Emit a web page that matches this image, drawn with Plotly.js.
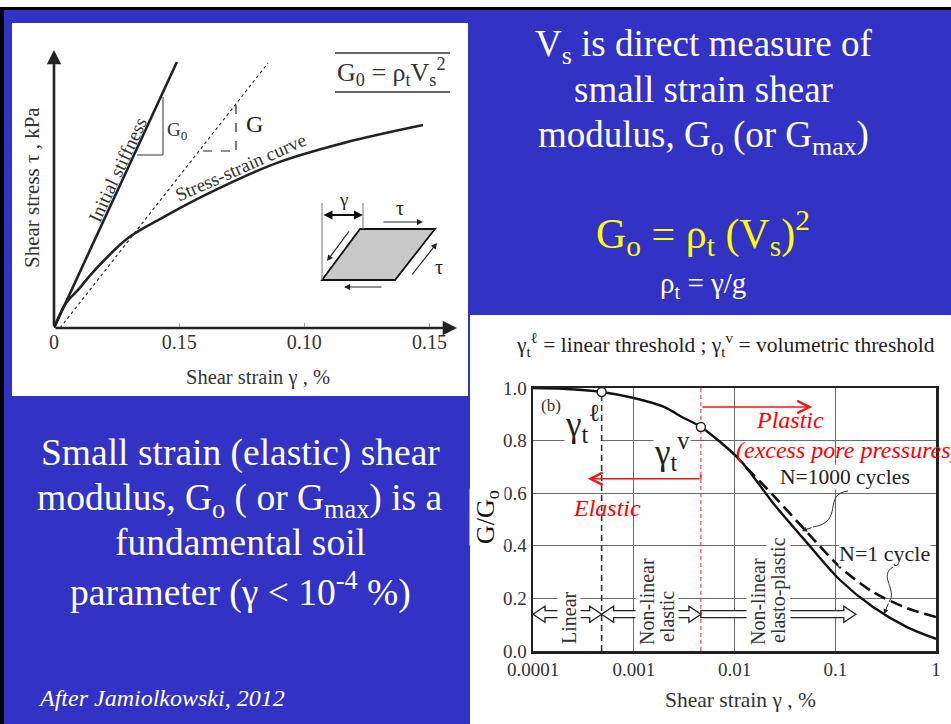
<!DOCTYPE html>
<html>
<head>
<meta charset="utf-8">
<script src="https://cdn.plot.ly/plotly-3.0.1.min.js"></script>
<style>html,body{margin:0;padding:0;background:#3232c4;}#chart{width:951px;height:724px;}</style>
</head>
<body>
<div id="chart"></div>
<script>
// ---------- Data: left chart (stress-strain, arbitrary units) ----------
const strainCurve = [0, 0.0048, 0.0096, 0.0164, 0.0296, 0.0432, 0.0603, 0.0891, 0.1155, 0.1474];
const stressCurve = [0, 9.0, 13.7, 20.9, 32.4, 39.6, 47.8, 59.4, 66.5, 73.0];
const strainInitial = [0, 0.0491];
const stressInitial = [0, 95.7];
const strainSecant = [0.0024, 0.0855];
const stressSecant = [0, 95.3];
const leftTickVals = [0, 0.05, 0.10, 0.15];
const leftTickText = ["0", "0.15", "0.10", "0.15"];

// ---------- Data: right chart (G/Go vs shear strain %) ----------
const gammaN1 = [0.0001, 0.0002, 0.00048, 0.001, 0.002, 0.003, 0.00464, 0.01135, 0.0241, 0.0525, 0.1114, 0.237, 0.515, 1.0];
const ratioN1 = [1.0, 0.997, 0.985, 0.962, 0.928, 0.89, 0.852, 0.726, 0.563, 0.411, 0.27, 0.167, 0.091, 0.046];
const gammaN1000 = [0.0131, 0.0241, 0.0525, 0.1114, 0.237, 0.515, 1.0];
const ratioN1000 = [0.697, 0.593, 0.452, 0.319, 0.224, 0.163, 0.129];
const gammaLinear = 0.00048, ratioLinear = 0.985;
const gammaVolumetric = 0.00464, ratioVolumetric = 0.852;
const rightXTicks = [0.0001, 0.001, 0.01, 0.1, 1];
const rightXText = ["0.0001", "0.001", "0.01", "0.1", "1"];
const rightYTicks = [0, 0.2, 0.4, 0.6, 0.8, 1.0];
const rightYText = ["0.0", "0.2", "0.4", "0.6", "0.8", "1.0"];
const zoneArrowLevel = 0.14;
const zoneEnd = 0.16;

// ---------- helpers (page pixels -> paper) ----------
const W = 951, H = 724;
const PX = x => x / W, PY = y => 1 - y / H;
const SERIF = "Liberation Serif";
const R = {x0: 533, x1: 936, y0: 651, y1: 388};
const gx = v => R.x0 + (Math.log10(v) + 4) * (R.x1 - R.x0) / 4;
const gy = v => R.y0 - v * (R.y0 - R.y1);

function pathOf(pts, close) {
  return 'M' + pts.map(p => PX(p[0]).toFixed(5) + ',' + PY(p[1]).toFixed(5)).join(' L') + (close ? ' Z' : '');
}
function rect(x0, y0, x1, y1, fill) {
  return {type: 'rect', xref: 'paper', yref: 'paper', x0: PX(x0), x1: PX(x1), y0: PY(y1), y1: PY(y0),
          fillcolor: fill, line: {width: 0}, layer: 'below'};
}
function seg(x0, y0, x1, y1, color, width, dash) {
  return {type: 'line', xref: 'paper', yref: 'paper', x0: PX(x0), y0: PY(y0), x1: PX(x1), y1: PY(y1),
          line: {color: color, width: width, dash: dash || 'solid'}};
}
function txt(text, x, y, size, color, extra) {
  return Object.assign({text: text, xref: 'paper', yref: 'paper', x: PX(x), y: PY(y), showarrow: false,
    xanchor: 'center', yanchor: 'middle', font: {family: SERIF, size: size, color: color}}, extra || {});
}
function arr(x0, y0, x1, y1, color, width, head, extra) {
  return Object.assign({text: '', xref: 'paper', yref: 'paper', x: PX(x1), y: PY(y1), ax: x0 - x1, ay: y0 - y1,
    showarrow: true, arrowcolor: color, arrowwidth: width, arrowhead: head, arrowsize: 1}, extra || {});
}
function hollowArrow(xa, xb, yc, left, right) {
  const s = 3.5, h = 8, L = 12;
  const pts = [];
  if (left) pts.push([xa, yc], [xa + L, yc - h], [xa + L, yc - s]); else pts.push([xa, yc - s]);
  if (right) pts.push([xb - L, yc - s], [xb - L, yc - h], [xb, yc], [xb - L, yc + h], [xb - L, yc + s]);
  else pts.push([xb, yc - s], [xb, yc + s]);
  if (left) pts.push([xa + L, yc + s], [xa + L, yc + h]); else pts.push([xa, yc + s]);
  return {type: 'path', xref: 'paper', yref: 'paper', path: pathOf(pts, true), fillcolor: 'white',
          line: {color: '#222', width: 1.3}};
}

// ---------- traces ----------
const traces = [
  {x: strainInitial, y: stressInitial, xaxis: 'x', yaxis: 'y', mode: 'lines', line: {color: '#222', width: 2.6}, hoverinfo: 'skip'},
  {x: strainSecant, y: stressSecant, xaxis: 'x', yaxis: 'y', mode: 'lines', line: {color: '#222', width: 1.1, dash: '3px,3px'}, hoverinfo: 'skip'},
  {x: strainCurve, y: stressCurve, xaxis: 'x', yaxis: 'y', mode: 'lines', line: {color: '#222', width: 2.6, shape: 'spline', smoothing: 1}, hoverinfo: 'skip'},

  {x: [gammaLinear, gammaLinear], y: [0, ratioLinear], xaxis: 'x2', yaxis: 'y2', mode: 'lines', line: {color: '#333', width: 1.6, dash: '6px,4px'}, hoverinfo: 'skip'},
  {x: [gammaVolumetric, gammaVolumetric], y: [0, 1], xaxis: 'x2', yaxis: 'y2', mode: 'lines', line: {color: '#ff2020', width: 1, dash: '4px,3px'}, hoverinfo: 'skip'},
  {x: gammaN1000, y: ratioN1000, xaxis: 'x2', yaxis: 'y2', mode: 'lines', line: {color: '#111', width: 2.6, dash: '12px,6px', shape: 'spline', smoothing: 0.8}, hoverinfo: 'skip'},
  {x: gammaN1, y: ratioN1, xaxis: 'x2', yaxis: 'y2', mode: 'lines', line: {color: '#111', width: 2.4, shape: 'spline', smoothing: 0.8}, hoverinfo: 'skip'},
  {x: [gammaLinear, gammaVolumetric], y: [ratioLinear, ratioVolumetric], xaxis: 'x2', yaxis: 'y2', mode: 'markers',
   marker: {size: 9, color: 'white', line: {color: '#222', width: 1.5}}, hoverinfo: 'skip'}
];

// ---------- shapes ----------
const shapes = [
  rect(0, 0, 951, 7, '#ffffff'),
  rect(0, 7, 951, 10, '#000000'),
  rect(0, 7, 4, 724, '#000000'),
  rect(12, 23, 468, 396, '#ffffff'),
  rect(470, 315, 951, 724, '#ffffff'),
  seg(163, 97, 163, 155, '#777', 1.5), seg(137, 155, 163, 155, '#777', 1.5),
  seg(236, 105, 236, 151, '#222', 1.2, 'dash'), seg(203, 151, 236, 151, '#222', 1.2, 'dash'),
  seg(335, 53, 450, 53, '#333', 1.5), seg(335, 92, 450, 92, '#333', 1.5),
  {type: 'path', xref: 'paper', yref: 'paper', path: pathOf([[322, 280], [360, 229], [435, 229], [395, 280]], true),
   fillcolor: '#c8c8c8', line: {color: '#111', width: 1.8}},
  seg(322, 203, 322, 280, '#777', 1), seg(363, 203, 363, 229, '#777', 1),
  hollowArrow(gx(0.0001), gx(gammaLinear), gy(zoneArrowLevel), true, true),
  hollowArrow(gx(gammaLinear), gx(gammaVolumetric), gy(zoneArrowLevel), true, true),
  hollowArrow(gx(gammaVolumetric), gx(zoneEnd), gy(zoneArrowLevel), false, true),
  {type: 'path', xref: 'paper', yref: 'paper', path: 'M' + PX(848) + ',' + PY(491) + ' C' + PX(822) + ',' + PY(494) + ' ' + PX(845) + ',' + PY(522) + ' ' + PX(813) + ',' + PY(527),
   line: {color: '#333', width: 1}},
  {type: 'path', xref: 'paper', yref: 'paper', path: 'M' + PX(893) + ',' + PY(567) + ' C' + PX(878) + ',' + PY(576) + ' ' + PX(898) + ',' + PY(590) + ' ' + PX(889) + ',' + PY(602),
   line: {color: '#333', width: 1}},
  seg(gx(gammaVolumetric), gy(0.655), gx(gammaVolumetric), gy(0.67), '#ff1010', 1.5)
];

// ---------- annotations ----------
const annotations = [
  txt('V<sub>s</sub> is direct measure of', 703, 47, 37, '#ffffff'),
  txt('small strain shear', 703, 90, 37, '#ffffff'),
  txt('modulus, G<sub>o</sub> (or G<sub>max</sub>)', 703, 137, 37, '#ffffff'),
  txt('G<sub>o</sub> = ρ<sub>t</sub> (V<sub>s</sub>)<sup>2</sup>', 703, 233, 42, '#ffff00'),
  txt('ρ<sub>t</sub> = γ/g', 703, 285, 29, '#ffffff'),
  txt('Small strain (elastic) shear', 240, 453, 37.5, '#ffffff'),
  txt('modulus, G<sub>o</sub> ( or G<sub>max</sub>) is a', 240, 500, 37.5, '#ffffff'),
  txt('fundamental soil', 240, 542, 37.5, '#ffffff'),
  txt('parameter (γ < 10<sup>-4</sup> %)', 240, 590, 37.5, '#ffffff'),
  txt('<i>After Jamiolkowski, 2012</i>', 36, 698, 24, '#ffffff', {xanchor: 'left'}),

  {text: '', xref: 'x', yref: 'y', axref: 'x', ayref: 'y', x: 0.161, y: 0, ax: 0, ay: 0, showarrow: true, arrowhead: 2, arrowsize: 1.1, arrowwidth: 2.6, arrowcolor: '#222'},
  {text: '', xref: 'x', yref: 'y', axref: 'x', ayref: 'y', x: 0, y: 100, ax: 0, ay: 0, showarrow: true, arrowhead: 2, arrowsize: 1.1, arrowwidth: 2.6, arrowcolor: '#222'},
  txt('Shear strain γ , %', 258, 377, 20.5, '#333'),
  txt('Shear stress τ , kPa', 32, 188, 21, '#333', {textangle: -90}),
  txt('Initial stiffness', 117, 170, 19, '#333', {textangle: -65}),
  txt('Stress-strain curve', 240, 167, 19, '#333', {textangle: -24}),
  txt('G<sub>0</sub>', 177, 131, 19, '#333'),
  txt('G', 254, 124, 24, '#222'),
  txt('G<sub>0</sub> = ρ<sub>t</sub>V<sub>s</sub><sup>2</sup>', 391, 72, 26, '#333'),
  arr(322, 215, 363, 215, '#111', 1.8, 2, {arrowside: 'end+start'}),
  txt('γ', 343, 200, 19, '#222'),
  arr(382, 222, 423, 222, '#222', 1.2, 2),
  txt('τ', 400, 208, 20, '#222'),
  arr(411, 276, 437, 243, '#222', 1.2, 2),
  txt('τ', 439, 267, 20, '#222'),
  arr(383, 287, 344, 287, '#222', 1.2, 2),
  arr(350, 230, 327, 261, '#222', 1.2, 2),

  txt('γ<sub>t</sub><sup>ℓ</sup> = linear threshold ; γ<sub>t</sub><sup>v</sup> = volumetric threshold', 725, 345, 21.5, '#222'),
  txt('G/G<sub>o</sub>', 487, 517, 26, '#111', {textangle: -90, bgcolor: 'white', borderpad: 1}),
  txt('Shear strain γ , %', 740, 700, 21.5, '#333'),
  txt('(b)', 551, 406, 17, '#333'),
  txt('γ<sub>t</sub><sup>ℓ</sup>', 582, 423, 35, '#222', {bgcolor: 'white', borderpad: 0}),
  txt('γ<sub>t</sub><sup>v</sup>', 672, 451, 35, '#222', {bgcolor: 'white', borderpad: 0}),
  txt('N=1000 cycles', 845, 477, 21.5, '#222', {bgcolor: 'white', borderpad: 0}),
  txt('N=1 cycle', 884, 553, 22, '#222', {bgcolor: 'white', borderpad: 0}),
  arr(813, 527, 802, 531, '#222', 1, 2),
  arr(889, 602, 884, 614, '#222', 1, 2),
  txt('Linear', 569, 618, 20, '#333', {textangle: -90, bgcolor: 'white', borderpad: 0}),
  txt('Non-linear', 647, 602, 20, '#333', {textangle: -90, bgcolor: 'white', borderpad: 0}),
  txt('elastic', 667, 617, 20, '#333', {textangle: -90, bgcolor: 'white', borderpad: 0}),
  txt('Non-linear', 758, 602, 20, '#333', {textangle: -90, bgcolor: 'white', borderpad: 0}),
  txt('elasto-plastic', 778, 590, 20, '#333', {textangle: -90, bgcolor: 'white', borderpad: 0}),
  {text: '', xref: 'x2', yref: 'y2', axref: 'x2', ayref: 'y2', x: Math.log10(0.059), y: 0.928, ax: Math.log10(gammaVolumetric), ay: 0.928,
   showarrow: true, arrowhead: 5, arrowsize: 1.6, arrowwidth: 1.5, arrowcolor: '#ff1010'},
  {text: '', xref: 'x2', yref: 'y2', axref: 'x2', ayref: 'y2', x: Math.log10(0.00035), y: 0.655, ax: Math.log10(gammaVolumetric), ay: 0.655,
   showarrow: true, arrowhead: 5, arrowsize: 1.6, arrowwidth: 1.5, arrowcolor: '#ff1010'},
  txt('<i>Plastic</i>', 790, 420, 24, '#ff0000'),
  txt('<i>(excess pore pressures)</i>', 734, 450, 24, '#ff0000', {xanchor: 'left'}),
  txt('<i>Elastic</i>', 607, 508, 24, '#ff0000')
];

const layout = {
  width: 951, height: 724,
  margin: {l: 0, r: 0, t: 0, b: 0},
  paper_bgcolor: '#3232c4',
  plot_bgcolor: 'rgba(0,0,0,0)',
  showlegend: false,
  font: {family: SERIF},
  xaxis: {domain: [PX(54), PX(457)], range: [0, 0.161], anchor: 'y', tickvals: leftTickVals, ticktext: leftTickText,
          ticks: 'inside', ticklen: 5, tickcolor: '#aaa', showline: false, showgrid: false, zeroline: false,
          tickfont: {family: SERIF, size: 20, color: '#333'}, fixedrange: true},
  yaxis: {domain: [PY(328), PY(50)], range: [0, 100], anchor: 'x', showticklabels: false, ticks: '', showgrid: false,
          zeroline: false, showline: false, fixedrange: true},
  xaxis2: {type: 'log', domain: [PX(R.x0), PX(R.x1)], range: [-4, 0], anchor: 'y2', tickvals: rightXTicks, ticktext: rightXText,
           showgrid: true, gridcolor: '#6a6a6a', gridwidth: 1.3, showline: true, mirror: true, linecolor: '#222', linewidth: 2.5,
           ticks: '', zeroline: false, tickfont: {family: SERIF, size: 19, color: '#333'}, fixedrange: true},
  yaxis2: {domain: [PY(R.y0), PY(R.y1)], range: [0, 1], anchor: 'x2', tickvals: rightYTicks, ticktext: rightYText,
           showgrid: true, gridcolor: '#6a6a6a', gridwidth: 1.3, showline: true, mirror: true, linecolor: '#222', linewidth: 2.5,
           ticks: '', zeroline: false, tickfont: {family: SERIF, size: 19, color: '#333'}, fixedrange: true},
  shapes: shapes,
  annotations: annotations
};

Plotly.newPlot('chart', traces, layout, {displayModeBar: false, staticPlot: true});
</script>
</body>
</html>
